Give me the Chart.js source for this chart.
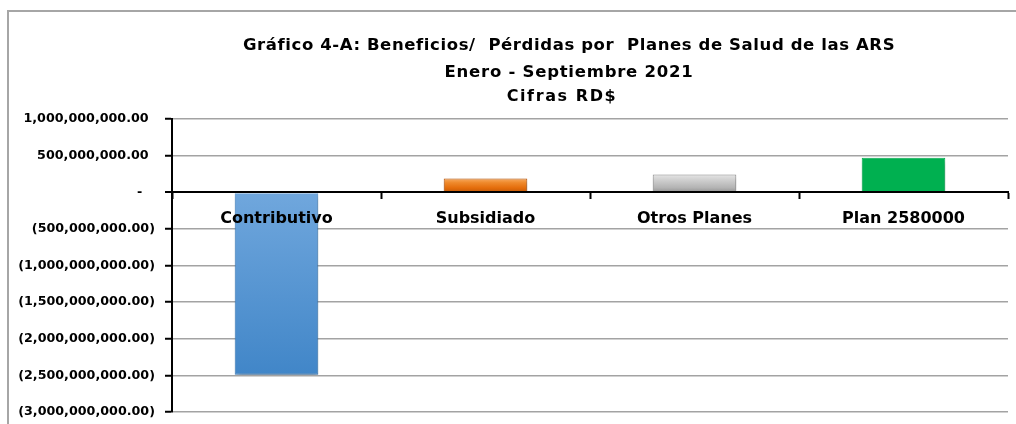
<!DOCTYPE html>
<html>
<head>
<meta charset="utf-8">
<script src="https://cdn.jsdelivr.net/npm/chart.js@4.4.1/dist/chart.umd.min.js"></script>
<style>
  html, body { margin: 0; padding: 0; background: #fff; overflow: hidden; }
  #marco { position: absolute; left: 7px; top: 10px; width: 1009px; height: 414px; border-left: 2px solid #a6a6a6; border-top: 2px solid #a6a6a6; box-sizing: border-box; }
  #grafico { position: absolute; left: 0; top: 0; }
</style>
</head>
<body>
<div id="marco"></div>
<canvas id="grafico" width="1016" height="424"></canvas>
<script>
// datos del grafico
const categorias = ['Contributivo', 'Subsidiado', 'Otros Planes', 'Plan 2580000'];
const resultados = [-2490000000, 188000000, 244000000, 472000000];
const ejeMin = -3000000000;
const ejeMax = 1000000000;
const ejePaso = 500000000;
const titulos = ['Gráfico 4-A: Beneficios/  Pérdidas por  Planes de Salud de las ARS', 'Enero - Septiembre 2021', 'Cifras RD$'];
const bordes = ['#4186c8', '#b85409', '#8f8f8f', '#00b050'];

const fuente = '"DejaVu Sans"';

function formatoRD(v){
    var s = Math.abs(v).toLocaleString('en-US', {minimumFractionDigits: 2, maximumFractionDigits: 2});
    if (v > 0) return s + '\u2002';
    if (v < 0) return '(' + s + ')';
    return '-\u2003';
}

function colorBarra(context){
    const chart = context.chart;
    const i = context.dataIndex;
    const y = chart.scales.y;
    if (!chart.chartArea || !y) return '#5b9bd5';
    const y0 = y.getPixelForValue(0);
    const y1 = y.getPixelForValue(resultados[i]);
    const ctx = chart.ctx;
    var g;
    if (i == 0) {
        g = ctx.createLinearGradient(0, y0, 0, y1);
        g.addColorStop(0, '#70a7dd');
        g.addColorStop(1, '#4186c8');
        return g;
    }
    if (i == 1) {
        g = ctx.createLinearGradient(0, y1, 0, y0);
        g.addColorStop(0, '#f8ab62');
        g.addColorStop(0.3, '#ef8a2c');
        g.addColorStop(0.7, '#e46c0a');
        g.addColorStop(1, '#c05a0a');
        return g;
    }
    if (i == 2) {
        g = ctx.createLinearGradient(0, y1, 0, y0);
        g.addColorStop(0, '#e6e6e6');
        g.addColorStop(0.3, '#d0d0d0');
        g.addColorStop(0.75, '#b3b3b3');
        g.addColorStop(1, '#939393');
        return g;
    }
    return '#00b050';
}

// sombra debajo de las barras
const sombra = {
    id: 'sombra',
    beforeDatasetsDraw(chart){
        const ctx = chart.ctx;
        ctx.save();
        ctx.shadowColor = 'rgba(0,0,0,0.3)';
        ctx.shadowBlur = 5;
        ctx.shadowOffsetX = 1;
        ctx.shadowOffsetY = 3;
    },
    afterDatasetsDraw(chart){
        chart.ctx.restore();
    }
};

// titulo
const titulo = {
    id: 'titulo',
    afterDraw(chart){
        const ctx = chart.ctx;
        ctx.save();
        ctx.fillStyle = '#000';
        ctx.textAlign = 'center';
        ctx.textBaseline = 'alphabetic';
        ctx.font = 'bold 16.5px ' + fuente;
        ctx.letterSpacing = '0.6px';
        ctx.fillText(titulos[0], 569, 50);
        ctx.letterSpacing = '0.75px';
        ctx.fillText(titulos[1], 569, 77);
        ctx.font = 'bold 16px ' + fuente;
        ctx.letterSpacing = '1.6px';
        ctx.fillText(titulos[2], 562, 101);
        ctx.restore();
    }
};

const grafico = new Chart(document.getElementById('grafico'), {
    type: 'bar',
    data: {
        labels: categorias,
        datasets: [{
            data: resultados,
            backgroundColor: colorBarra,
            borderColor: bordes,
            borderWidth: 1,
            barPercentage: 0.4,
            categoryPercentage: 1.0
        }]
    },
    options: {
        responsive: false,
        animation: false,
        layout: { padding: { top: 119, right: 8, bottom: 12, left: 0 } },
        plugins: { legend: { display: false }, tooltip: { enabled: false } },
        scales: {
            x: {
                position: { y: 0 },
                offset: true,
                grid: { display: true, drawOnChartArea: false, drawTicks: true, tickLength: 6, tickColor: '#000', tickWidth: 2, offset: true, z: 1 },
                border: { display: true, color: '#000', width: 2, z: 1 },
                ticks: { color: '#000', font: { family: 'DejaVu Sans', weight: 'bold', size: 16 }, padding: 11, maxRotation: 0, autoSkip: false, z: 1 }
            },
            y: {
                min: ejeMin,
                max: ejeMax,
                ticks: { stepSize: ejePaso, callback: formatoRD, color: '#000', font: { family: 'DejaVu Sans', weight: 'bold', size: 12.7 }, padding: 10 },
                grid: {
                    color: c => c.tick && c.tick.value == 0 ? '#000' : '#a3a3a3',
                    lineWidth: c => c.tick && c.tick.value == 0 ? 2 : 1.5,
                    tickColor: '#000', tickLength: 7, tickWidth: 2
                },
                border: { color: '#000', width: 2 },
                afterFit: s => { s.width = 172; s.paddingTop = 0; s.paddingBottom = 0; }
            }
        }
    },
    plugins: [sombra, titulo]
});
</script>
</body>
</html>
